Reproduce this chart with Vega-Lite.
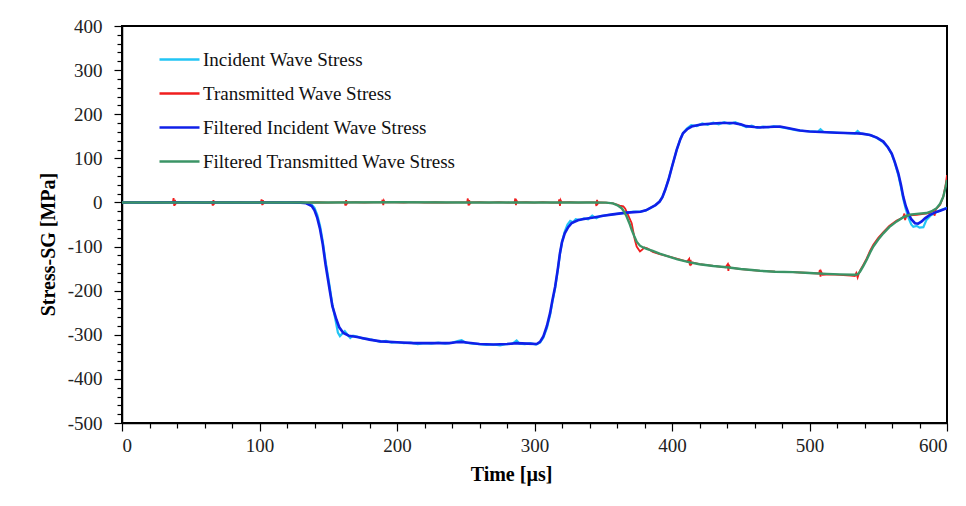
{
  "$schema": "https://vega.github.io/schema/vega-lite/v6.json",
  "autosize": "none",
  "width": 825,
  "height": 397,
  "padding": {"left": 122, "top": 26, "right": 19, "bottom": 83},
  "background": "white",
  "config": {
    "view": {"stroke": "#000", "strokeWidth": 2},
    "font": "Liberation Serif",
    "axis": {"grid": false, "domainColor": "#000", "domainWidth": 1.5, "tickColor": "#000", "tickWidth": 1.2, "labelFont": "Liberation Serif", "labelFontSize": 19, "labelColor": "#222", "titleFont": "Liberation Serif", "titleFontSize": 20, "titleFontWeight": "bold", "titleColor": "#000"},
    "legend": {"labelFont": "Liberation Serif", "labelFontSize": 19, "labelColor": "#111", "labelLimit": 0}
  },
  "datasets": {
    "ri": [
      {"t":0,"v":0},{"t":10,"v":0.5},{"t":20,"v":-0.5},{"t":30,"v":0.5},{"t":40,"v":0},{"t":50,"v":0.5},{"t":60,"v":-0.5},{"t":70,"v":0},{"t":80,"v":0.5},{"t":90,"v":-0.5},{"t":100,"v":0},{"t":110,"v":0.5},{"t":120,"v":0},{"t":130,"v":0},{"t":134,"v":-1},{"t":138,"v":-5},{"t":140,"v":-12},{"t":142,"v":-28},{"t":144,"v":-52},{"t":146,"v":-88},{"t":148,"v":-132},{"t":151,"v":-190},{"t":153,"v":-232},{"t":155,"v":-262},{"t":157,"v":-295},{"t":158.5,"v":-303},{"t":160,"v":-298},{"t":162,"v":-292},{"t":164,"v":-300},{"t":166,"v":-307},{"t":168,"v":-302},{"t":171,"v":-304},{"t":175,"v":-308},{"t":180,"v":-310},{"t":184,"v":-313},{"t":188,"v":-316},{"t":192,"v":-314},{"t":196,"v":-318},{"t":200,"v":-317},{"t":205,"v":-319},{"t":210,"v":-318},{"t":215,"v":-321},{"t":220,"v":-319},{"t":225,"v":-320},{"t":230,"v":-318},{"t":235,"v":-320},{"t":240,"v":-318},{"t":244,"v":-314},{"t":247,"v":-312},{"t":250,"v":-318},{"t":255,"v":-320},{"t":260,"v":-321},{"t":265,"v":-323},{"t":270,"v":-322},{"t":275,"v":-324},{"t":280,"v":-321},{"t":284,"v":-320},{"t":287,"v":-313},{"t":289,"v":-320},{"t":293,"v":-321},{"t":297,"v":-319},{"t":301,"v":-322},{"t":304,"v":-318},{"t":306.4,"v":-307},{"t":309,"v":-285},{"t":311.3,"v":-256},{"t":313,"v":-226},{"t":315,"v":-194},{"t":317,"v":-152},{"t":318.5,"v":-117},{"t":320,"v":-90},{"t":322,"v":-66},{"t":324,"v":-50},{"t":326,"v":-42},{"t":328,"v":-45},{"t":330,"v":-38},{"t":333,"v":-40},{"t":336,"v":-36},{"t":339,"v":-38},{"t":342,"v":-30},{"t":345,"v":-36},{"t":348,"v":-31},{"t":352,"v":-29},{"t":357,"v":-27},{"t":362,"v":-25},{"t":367,"v":-23},{"t":372,"v":-21},{"t":377,"v":-21},{"t":381,"v":-18},{"t":384,"v":-13},{"t":388,"v":-6},{"t":391,"v":2},{"t":393,"v":12},{"t":395,"v":28},{"t":397.5,"v":52},{"t":400,"v":81},{"t":403.4,"v":119},{"t":406,"v":143},{"t":408,"v":157},{"t":411,"v":168},{"t":414,"v":175},{"t":418,"v":173},{"t":422,"v":179},{"t":426,"v":176},{"t":430,"v":181},{"t":434,"v":177},{"t":438,"v":182},{"t":442,"v":178},{"t":446,"v":182},{"t":450,"v":176},{"t":454,"v":171},{"t":458,"v":174},{"t":462,"v":169},{"t":466,"v":172},{"t":470,"v":170},{"t":474,"v":173},{"t":478,"v":171},{"t":484,"v":168},{"t":490,"v":164},{"t":496,"v":162},{"t":502,"v":161},{"t":506,"v":160},{"t":508,"v":166},{"t":510,"v":160},{"t":516,"v":159},{"t":522,"v":158},{"t":528,"v":157},{"t":533,"v":156},{"t":535,"v":162},{"t":537,"v":156},{"t":541,"v":155},{"t":545,"v":152},{"t":549,"v":146},{"t":553,"v":138},{"t":557,"v":125},{"t":560,"v":108},{"t":562,"v":90},{"t":564.6,"v":62},{"t":566.5,"v":35},{"t":568.2,"v":8},{"t":570,"v":-15},{"t":572,"v":-35},{"t":574,"v":-50},{"t":575.5,"v":-55},{"t":578,"v":-53},{"t":580,"v":-57},{"t":582.8,"v":-56},{"t":585,"v":-40},{"t":588,"v":-30},{"t":591,"v":-24},{"t":595,"v":-18},{"t":600,"v":-12}
    ],
    "rt": [
      {"t":0,"v":0},{"t":6,"v":0.5},{"t":12,"v":-0.4},{"t":18,"v":0.6},{"t":24,"v":-0.3},{"t":30,"v":0.4},{"t":36,"v":0},{"t":37,"v":0.5},{"t":37.5,"v":10},{"t":38,"v":-8},{"t":38.5,"v":6},{"t":39,"v":-3},{"t":39.8,"v":0.3},{"t":45,"v":-0.4},{"t":52,"v":0.5},{"t":58,"v":-0.3},{"t":64,"v":0.3},{"t":65.5,"v":-1},{"t":66,"v":-7},{"t":66.5,"v":5},{"t":67,"v":-3},{"t":67.8,"v":0},{"t":74,"v":0.4},{"t":80,"v":-0.4},{"t":86,"v":0.5},{"t":92,"v":-0.3},{"t":98,"v":0.3},{"t":101,"v":0},{"t":101.5,"v":7},{"t":102,"v":-6},{"t":102.5,"v":5},{"t":103,"v":-2},{"t":103.8,"v":0},{"t":110,"v":0.4},{"t":118,"v":-0.4},{"t":126,"v":0.5},{"t":134,"v":-0.3},{"t":142,"v":0.4},{"t":150,"v":-0.4},{"t":157,"v":0.3},{"t":162,"v":0},{"t":162.5,"v":-7},{"t":163,"v":5},{"t":163.5,"v":-3},{"t":164.2,"v":0},{"t":170,"v":0.4},{"t":176,"v":-0.4},{"t":183,"v":0.3},{"t":189,"v":0},{"t":189.5,"v":6},{"t":190,"v":-6},{"t":190.5,"v":4},{"t":191.2,"v":0},{"t":198,"v":0.4},{"t":205,"v":-0.4},{"t":212,"v":0.5},{"t":220,"v":-0.3},{"t":228,"v":0.4},{"t":236,"v":-0.4},{"t":244,"v":0.3},{"t":251,"v":0},{"t":251.5,"v":9},{"t":252,"v":-7},{"t":252.5,"v":5},{"t":253,"v":-3},{"t":253.8,"v":0},{"t":260,"v":0.4},{"t":267,"v":-0.4},{"t":274,"v":0.5},{"t":280,"v":-0.3},{"t":285.5,"v":0},{"t":286,"v":9},{"t":286.5,"v":-6},{"t":287,"v":4},{"t":287.8,"v":0},{"t":294,"v":0.4},{"t":300,"v":-0.4},{"t":306,"v":0.5},{"t":312,"v":-0.3},{"t":317.5,"v":0},{"t":318,"v":7},{"t":318.5,"v":-8},{"t":319,"v":5},{"t":319.8,"v":0},{"t":326,"v":0.4},{"t":332,"v":-0.4},{"t":338,"v":0.3},{"t":344.5,"v":0},{"t":345,"v":-8},{"t":345.5,"v":6},{"t":346,"v":-3},{"t":346.8,"v":0},{"t":352,"v":-0.5},{"t":357,"v":-2},{"t":360,"v":-5},{"t":362,"v":-7},{"t":364.6,"v":-9},{"t":366,"v":-14},{"t":368,"v":-28},{"t":370.7,"v":-47},{"t":373,"v":-85},{"t":374.3,"v":-100},{"t":376.7,"v":-111},{"t":378,"v":-108},{"t":380,"v":-102},{"t":382,"v":-104},{"t":386,"v":-112},{"t":391,"v":-117},{"t":396,"v":-121},{"t":404,"v":-128},{"t":411,"v":-134},{"t":412.5,"v":-128},{"t":413,"v":-143},{"t":413.5,"v":-130},{"t":414,"v":-140},{"t":415,"v":-136},{"t":420,"v":-140},{"t":430,"v":-144},{"t":439,"v":-147},{"t":440.5,"v":-140},{"t":441,"v":-155},{"t":441.5,"v":-143},{"t":442.5,"v":-148},{"t":450,"v":-151},{"t":464,"v":-155},{"t":475,"v":-157},{"t":488,"v":-158},{"t":500,"v":-160},{"t":507,"v":-161},{"t":507.5,"v":-153},{"t":508,"v":-168},{"t":508.5,"v":-157},{"t":509.5,"v":-164},{"t":515,"v":-163},{"t":522,"v":-164},{"t":530,"v":-166},{"t":533,"v":-167},{"t":534,"v":-160},{"t":535,"v":-170},{"t":536,"v":-160},{"t":537,"v":-153},{"t":539,"v":-142},{"t":541.6,"v":-127},{"t":544,"v":-110},{"t":546.4,"v":-96},{"t":550,"v":-80},{"t":553.7,"v":-67},{"t":558,"v":-53},{"t":563.4,"v":-41},{"t":568,"v":-34},{"t":569,"v":-25},{"t":569.5,"v":-40},{"t":570.5,"v":-30},{"t":572.7,"v":-29},{"t":578,"v":-28},{"t":583,"v":-26},{"t":587,"v":-24},{"t":590,"v":-18},{"t":591,"v":-30},{"t":592,"v":-15},{"t":595,"v":-5},{"t":597.3,"v":13},{"t":599,"v":40},{"t":600,"v":62}
    ],
    "fi": [
      {"t":0,"v":0},{"t":20,"v":0},{"t":40,"v":0.5},{"t":60,"v":0},{"t":80,"v":0},{"t":100,"v":0},{"t":120,"v":0},{"t":130,"v":-0.5},{"t":134,"v":-2},{"t":138,"v":-8},{"t":140,"v":-18},{"t":142,"v":-35},{"t":144,"v":-60},{"t":146,"v":-95},{"t":148,"v":-140},{"t":151,"v":-198},{"t":153,"v":-235},{"t":156,"v":-266},{"t":158,"v":-283},{"t":161,"v":-296},{"t":165,"v":-302},{"t":171,"v":-305},{"t":180,"v":-311},{"t":188,"v":-315},{"t":200,"v":-317},{"t":212,"v":-319},{"t":225,"v":-319},{"t":238,"v":-319},{"t":243,"v":-317},{"t":247,"v":-316},{"t":252,"v":-318},{"t":260,"v":-321},{"t":270,"v":-322},{"t":280,"v":-321},{"t":287,"v":-319},{"t":295,"v":-320},{"t":301.6,"v":-321},{"t":304,"v":-316},{"t":306.4,"v":-304},{"t":309,"v":-280},{"t":311.3,"v":-251},{"t":313,"v":-222},{"t":315,"v":-191},{"t":317,"v":-150},{"t":318.5,"v":-115},{"t":320,"v":-90},{"t":322,"v":-70},{"t":324.5,"v":-56},{"t":327,"v":-47},{"t":332,"v":-40},{"t":337,"v":-37},{"t":343,"v":-34},{"t":350,"v":-30},{"t":357,"v":-27},{"t":367,"v":-23},{"t":377,"v":-21},{"t":381,"v":-18},{"t":384,"v":-13},{"t":388,"v":-6},{"t":391,"v":2},{"t":393,"v":12},{"t":395,"v":28},{"t":397.5,"v":52},{"t":400,"v":81},{"t":403.4,"v":119},{"t":406,"v":143},{"t":408,"v":157},{"t":411,"v":166},{"t":414.3,"v":172},{"t":420,"v":176},{"t":425,"v":178},{"t":430,"v":179},{"t":435,"v":180},{"t":440,"v":180},{"t":444.6,"v":180},{"t":450,"v":177},{"t":454,"v":173},{"t":460,"v":171},{"t":464,"v":170},{"t":470,"v":171},{"t":478.5,"v":172},{"t":485,"v":168},{"t":493,"v":163},{"t":500,"v":161},{"t":512.5,"v":159},{"t":520,"v":158},{"t":532,"v":157},{"t":538,"v":156},{"t":544,"v":153},{"t":549,"v":147},{"t":553.7,"v":138},{"t":557,"v":125},{"t":559.8,"v":111},{"t":562,"v":92},{"t":564.6,"v":66},{"t":566.5,"v":40},{"t":568.2,"v":13},{"t":570,"v":-8},{"t":572,"v":-25},{"t":574,"v":-38},{"t":576.7,"v":-47},{"t":579,"v":-48},{"t":581.6,"v":-43},{"t":584,"v":-36},{"t":587.6,"v":-28},{"t":591,"v":-23},{"t":595,"v":-19},{"t":600,"v":-13}
    ],
    "ft": [
      {"t":0,"v":0},{"t":50,"v":0},{"t":100,"v":0},{"t":150,"v":0},{"t":200,"v":0.5},{"t":250,"v":0},{"t":300,"v":0},{"t":340,"v":0},{"t":352,"v":-0.5},{"t":357,"v":-2},{"t":360,"v":-6},{"t":363.4,"v":-13},{"t":365,"v":-20},{"t":367,"v":-32},{"t":369,"v":-47},{"t":370.7,"v":-62},{"t":372.5,"v":-76},{"t":374.3,"v":-89},{"t":376.7,"v":-98},{"t":379,"v":-102},{"t":381.6,"v":-105},{"t":386,"v":-110},{"t":391,"v":-116},{"t":396,"v":-121},{"t":404,"v":-129},{"t":413,"v":-136},{"t":420,"v":-140},{"t":430,"v":-144},{"t":439.8,"v":-147},{"t":450,"v":-151},{"t":464,"v":-155},{"t":475,"v":-157},{"t":488,"v":-158},{"t":500,"v":-160},{"t":512.5,"v":-162},{"t":522,"v":-163},{"t":532,"v":-164},{"t":535,"v":-163},{"t":536.7,"v":-157},{"t":539,"v":-145},{"t":541.6,"v":-130},{"t":544,"v":-114},{"t":546.4,"v":-100},{"t":550,"v":-84},{"t":553.7,"v":-70},{"t":558,"v":-56},{"t":563.4,"v":-43},{"t":568,"v":-34},{"t":572.7,"v":-28},{"t":578,"v":-26},{"t":585,"v":-24},{"t":589,"v":-20},{"t":592.4,"v":-13},{"t":595,"v":-3},{"t":597.3,"v":13},{"t":599,"v":35},{"t":600,"v":51}
    ]
  },
  "resolve": {"axis": {"x": "independent", "y": "independent"}},
  "layer": [
    {
      "data": {"name": "ri"},
      "mark": {"type": "line", "strokeWidth": 2.2, "clip": true},
      "encoding": {
        "x": {"field": "t", "type": "quantitative", "scale": {"domain": [0, 600], "nice": false},
          "axis": {"orient": "bottom", "values": [20,40,60,80,120,140,160,180,220,240,260,280,320,340,360,380,420,440,460,480,520,540,560,580], "labels": false, "domain": false, "tickSize": 5, "title": null}},
        "y": {"field": "v", "type": "quantitative", "scale": {"domain": [-500, 400], "nice": false, "zero": false},
          "axis": {"orient": "left", "values": [-480,-460,-440,-420,-380,-360,-340,-320,-280,-260,-240,-220,-180,-160,-140,-120,-80,-60,-40,-20,20,40,60,80,120,140,160,180,220,240,260,280,320,340,360,380], "labels": false, "domain": false, "tickSize": 5, "title": null}},
        "color": {"datum": "Incident Wave Stress", "type": "nominal",
          "scale": {"domain": ["Incident Wave Stress", "Transmitted Wave Stress", "Filtered Incident Wave Stress", "Filtered Transmitted Wave Stress"], "range": ["#22C5F5", "#F01E1E", "#1020E8", "#3B9466"]},
          "legend": {"title": null, "orient": "none", "legendX": 36, "legendY": 12, "symbolType": "stroke", "symbolSize": 1600, "symbolStrokeWidth": 2.5, "labelOffset": 2, "rowPadding": 2, "labelLimit": 0, "labelFont": "Liberation Serif", "labelFontSize": 19}}
      }
    },
    {
      "data": {"name": "rt"},
      "mark": {"type": "line", "strokeWidth": 1.8, "clip": true},
      "encoding": {
        "x": {"field": "t", "type": "quantitative", "axis": null},
        "y": {"field": "v", "type": "quantitative", "axis": null},
        "color": {"datum": "Transmitted Wave Stress", "type": "nominal"}
      }
    },
    {
      "data": {"name": "fi"},
      "mark": {"type": "line", "strokeWidth": 2.6, "clip": true},
      "encoding": {
        "x": {"field": "t", "type": "quantitative",
          "axis": {"orient": "bottom", "values": [0,100,200,300,400,500,600], "tickSize": 8, "labelPadding": 5, "labelFont": "Liberation Serif", "labelFontSize": 19, "labelExpr": "'' + datum.value", "title": "Time [µs]", "titleFont": "Liberation Serif", "titlePadding": 9, "titleX": 389}},
        "y": {"field": "v", "type": "quantitative",
          "axis": {"orient": "left", "values": [-500,-400,-300,-200,-100,0,100,200,300,400], "tickSize": 8, "labelPadding": 12, "labelFont": "Liberation Serif", "labelFontSize": 19, "labelExpr": "'' + datum.value", "title": "Stress-SG [MPa]", "titleFont": "Liberation Serif", "titlePadding": 9, "titleY": 218}},
        "color": {"datum": "Filtered Incident Wave Stress", "type": "nominal"}
      }
    },
    {
      "data": {"name": "ft"},
      "mark": {"type": "line", "strokeWidth": 2.4, "clip": true},
      "encoding": {
        "x": {"field": "t", "type": "quantitative", "axis": null},
        "y": {"field": "v", "type": "quantitative", "axis": null},
        "color": {"datum": "Filtered Transmitted Wave Stress", "type": "nominal"}
      }
    }
  ]
}
